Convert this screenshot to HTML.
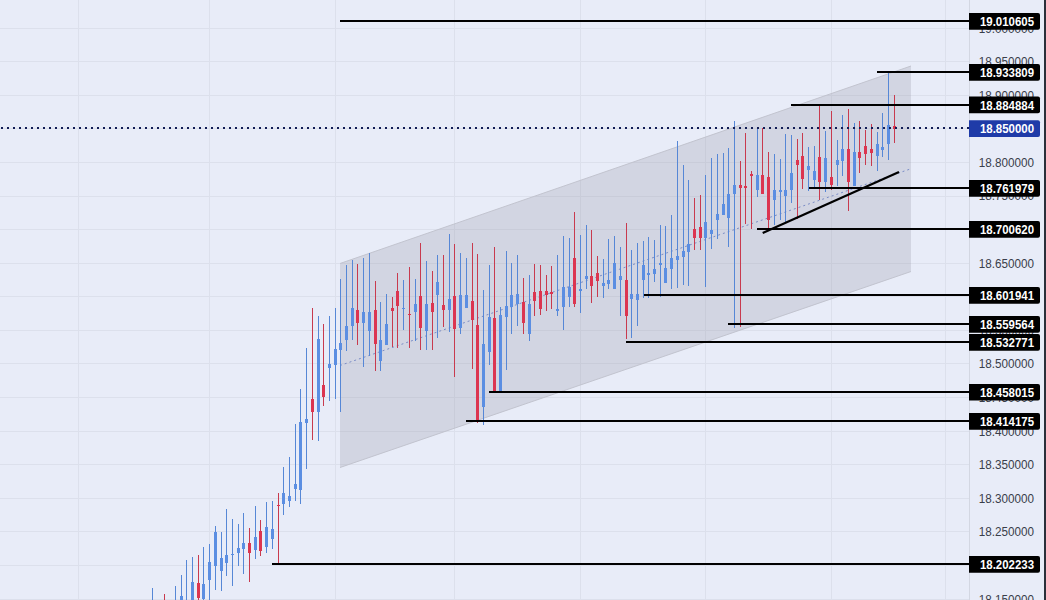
<!DOCTYPE html><html><head><meta charset="utf-8"><style>
html,body{margin:0;padding:0;width:1046px;height:600px;overflow:hidden;background:#e8ecf8;}
svg{display:block;}
text{font-family:"Liberation Sans",sans-serif;}
</style></head><body>
<svg width="1046" height="600" viewBox="0 0 1046 600" shape-rendering="crispEdges">
<rect x="0" y="0" width="1046" height="600" fill="#e8ecf8"/>
<rect x="78" y="0" width="1" height="600" fill="#dce0ec"/>
<rect x="209" y="0" width="1" height="600" fill="#dce0ec"/>
<rect x="335" y="0" width="1" height="600" fill="#dce0ec"/>
<rect x="454" y="0" width="1" height="600" fill="#dce0ec"/>
<rect x="580" y="0" width="1" height="600" fill="#dce0ec"/>
<rect x="705" y="0" width="1" height="600" fill="#dce0ec"/>
<rect x="831" y="0" width="1" height="600" fill="#dce0ec"/>
<rect x="945" y="0" width="1" height="600" fill="#dce0ec"/>
<rect x="0" y="599" width="969" height="1" fill="#dce0ec"/>
<rect x="0" y="565" width="969" height="1" fill="#dce0ec"/>
<rect x="0" y="531" width="969" height="1" fill="#dce0ec"/>
<rect x="0" y="498" width="969" height="1" fill="#dce0ec"/>
<rect x="0" y="464" width="969" height="1" fill="#dce0ec"/>
<rect x="0" y="431" width="969" height="1" fill="#dce0ec"/>
<rect x="0" y="397" width="969" height="1" fill="#dce0ec"/>
<rect x="0" y="363" width="969" height="1" fill="#dce0ec"/>
<rect x="0" y="330" width="969" height="1" fill="#dce0ec"/>
<rect x="0" y="296" width="969" height="1" fill="#dce0ec"/>
<rect x="0" y="263" width="969" height="1" fill="#dce0ec"/>
<rect x="0" y="229" width="969" height="1" fill="#dce0ec"/>
<rect x="0" y="196" width="969" height="1" fill="#dce0ec"/>
<rect x="0" y="162" width="969" height="1" fill="#dce0ec"/>
<rect x="0" y="128" width="969" height="1" fill="#dce0ec"/>
<rect x="0" y="95" width="969" height="1" fill="#dce0ec"/>
<rect x="0" y="61" width="969" height="1" fill="#dce0ec"/>
<rect x="0" y="28" width="969" height="1" fill="#dce0ec"/>
<rect x="969" y="0" width="1" height="600" fill="#d3d7e2"/>
<text transform="translate(1034.00,603.5) scale(0.900,1)" text-anchor="end" font-size="13.0" fill="#3a3e4a">18.150000</text>
<text transform="translate(1034.00,569.9) scale(0.900,1)" text-anchor="end" font-size="13.0" fill="#3a3e4a">18.200000</text>
<text transform="translate(1034.00,536.3) scale(0.900,1)" text-anchor="end" font-size="13.0" fill="#3a3e4a">18.250000</text>
<text transform="translate(1034.00,502.7) scale(0.900,1)" text-anchor="end" font-size="13.0" fill="#3a3e4a">18.300000</text>
<text transform="translate(1034.00,469.1) scale(0.900,1)" text-anchor="end" font-size="13.0" fill="#3a3e4a">18.350000</text>
<text transform="translate(1034.00,435.5) scale(0.900,1)" text-anchor="end" font-size="13.0" fill="#3a3e4a">18.400000</text>
<text transform="translate(1034.00,402.0) scale(0.900,1)" text-anchor="end" font-size="13.0" fill="#3a3e4a">18.450000</text>
<text transform="translate(1034.00,368.4) scale(0.900,1)" text-anchor="end" font-size="13.0" fill="#3a3e4a">18.500000</text>
<text transform="translate(1034.00,334.8) scale(0.900,1)" text-anchor="end" font-size="13.0" fill="#3a3e4a">18.550000</text>
<text transform="translate(1034.00,301.2) scale(0.900,1)" text-anchor="end" font-size="13.0" fill="#3a3e4a">18.600000</text>
<text transform="translate(1034.00,267.6) scale(0.900,1)" text-anchor="end" font-size="13.0" fill="#3a3e4a">18.650000</text>
<text transform="translate(1034.00,234.0) scale(0.900,1)" text-anchor="end" font-size="13.0" fill="#3a3e4a">18.700000</text>
<text transform="translate(1034.00,200.4) scale(0.900,1)" text-anchor="end" font-size="13.0" fill="#3a3e4a">18.750000</text>
<text transform="translate(1034.00,166.9) scale(0.900,1)" text-anchor="end" font-size="13.0" fill="#3a3e4a">18.800000</text>
<text transform="translate(1034.00,133.3) scale(0.900,1)" text-anchor="end" font-size="13.0" fill="#3a3e4a">18.850000</text>
<text transform="translate(1034.00,99.7) scale(0.900,1)" text-anchor="end" font-size="13.0" fill="#3a3e4a">18.900000</text>
<text transform="translate(1034.00,66.1) scale(0.900,1)" text-anchor="end" font-size="13.0" fill="#3a3e4a">18.950000</text>
<text transform="translate(1034.00,32.5) scale(0.900,1)" text-anchor="end" font-size="13.0" fill="#3a3e4a">19.000000</text>
<polygon points="340,263.5 911,66 911,271.5 340,467.5" fill="#8e90a0" fill-opacity="0.25" shape-rendering="geometricPrecision"/>
<line x1="340" y1="263.5" x2="911" y2="66" stroke="#c2c4cf" stroke-width="1" shape-rendering="geometricPrecision"/>
<line x1="340" y1="467.5" x2="911" y2="271.5" stroke="#c2c4cf" stroke-width="1" shape-rendering="geometricPrecision"/>
<line x1="340" y1="365.5" x2="911" y2="168.75" stroke="#7a8cc6" stroke-width="1" stroke-dasharray="2 3" shape-rendering="geometricPrecision"/>
<rect x="152" y="588.0" width="1" height="32.0" fill="#5687d6"/>
<rect x="151" y="605.0" width="3" height="10.0" fill="#5b8ee2"/>
<rect x="164" y="594.0" width="1" height="26.0" fill="#c83a4e"/>
<rect x="163" y="605.0" width="3" height="10.0" fill="#dc3550"/>
<rect x="175" y="586.0" width="1" height="34.0" fill="#5687d6"/>
<rect x="174" y="605.0" width="3" height="10.0" fill="#5b8ee2"/>
<rect x="181" y="575.0" width="1" height="40.0" fill="#5687d6"/>
<rect x="180" y="596.0" width="3" height="14.0" fill="#5b8ee2"/>
<rect x="186" y="560.0" width="1" height="55.0" fill="#5687d6"/>
<rect x="185" y="603.0" width="3" height="9.0" fill="#5b8ee2"/>
<rect x="192" y="557.0" width="1" height="58.0" fill="#5687d6"/>
<rect x="191" y="582.0" width="3" height="28.0" fill="#5b8ee2"/>
<rect x="198" y="555.0" width="1" height="55.0" fill="#c83a4e"/>
<rect x="197" y="583.0" width="3" height="14.5" fill="#dc3550"/>
<rect x="203" y="547.0" width="1" height="55.0" fill="#5687d6"/>
<rect x="202" y="584.0" width="3" height="15.0" fill="#5b8ee2"/>
<rect x="209" y="544.0" width="1" height="61.0" fill="#5687d6"/>
<rect x="208" y="562.0" width="3" height="18.0" fill="#5b8ee2"/>
<rect x="215" y="526.0" width="1" height="63.5" fill="#5687d6"/>
<rect x="214" y="532.0" width="3" height="34.0" fill="#5b8ee2"/>
<rect x="221" y="532.0" width="1" height="59.0" fill="#5687d6"/>
<rect x="220" y="558.0" width="3" height="13.0" fill="#5b8ee2"/>
<rect x="226" y="509.0" width="1" height="66.5" fill="#5687d6"/>
<rect x="225" y="555.0" width="3" height="8.0" fill="#5b8ee2"/>
<rect x="232" y="519.0" width="1" height="67.0" fill="#5687d6"/>
<rect x="231" y="554.0" width="3" height="1.0" fill="#5b8ee2"/>
<rect x="238" y="524.0" width="1" height="42.0" fill="#5687d6"/>
<rect x="237" y="548.0" width="3" height="4.6" fill="#5b8ee2"/>
<rect x="243" y="513.0" width="1" height="61.0" fill="#5687d6"/>
<rect x="242" y="543.0" width="3" height="6.0" fill="#5b8ee2"/>
<rect x="249" y="528.0" width="1" height="54.0" fill="#c83a4e"/>
<rect x="248" y="543.0" width="3" height="9.6" fill="#dc3550"/>
<rect x="255" y="506.0" width="1" height="53.0" fill="#5687d6"/>
<rect x="254" y="537.0" width="3" height="13.0" fill="#5b8ee2"/>
<rect x="260" y="520.0" width="1" height="36.0" fill="#c83a4e"/>
<rect x="259" y="531.0" width="3" height="20.0" fill="#dc3550"/>
<rect x="266" y="502.0" width="1" height="51.0" fill="#5687d6"/>
<rect x="265" y="527.0" width="3" height="20.0" fill="#5b8ee2"/>
<rect x="272" y="501.0" width="1" height="48.0" fill="#5687d6"/>
<rect x="271" y="529.0" width="3" height="10.0" fill="#5b8ee2"/>
<rect x="278" y="493.0" width="1" height="71.0" fill="#c83a4e"/>
<rect x="277" y="504.5" width="3" height="1.0" fill="#dc3550"/>
<rect x="283" y="467.0" width="1" height="48.0" fill="#5687d6"/>
<rect x="282" y="492.6" width="3" height="11.4" fill="#5b8ee2"/>
<rect x="289" y="457.0" width="1" height="50.0" fill="#5687d6"/>
<rect x="288" y="496.0" width="3" height="5.0" fill="#5b8ee2"/>
<rect x="295" y="424.0" width="1" height="77.0" fill="#5687d6"/>
<rect x="294" y="484.0" width="3" height="5.0" fill="#5b8ee2"/>
<rect x="300" y="389.0" width="1" height="115.0" fill="#5687d6"/>
<rect x="299" y="422.0" width="3" height="68.0" fill="#5b8ee2"/>
<rect x="306" y="348.0" width="1" height="121.0" fill="#5687d6"/>
<rect x="305" y="419.0" width="3" height="4.0" fill="#5b8ee2"/>
<rect x="312" y="308.0" width="1" height="132.0" fill="#c83a4e"/>
<rect x="311" y="399.0" width="3" height="12.6" fill="#dc3550"/>
<rect x="318" y="316.0" width="1" height="125.0" fill="#5687d6"/>
<rect x="317" y="339.0" width="3" height="72.6" fill="#5b8ee2"/>
<rect x="323" y="324.0" width="1" height="82.0" fill="#c83a4e"/>
<rect x="322" y="385.0" width="3" height="12.0" fill="#dc3550"/>
<rect x="329" y="316.0" width="1" height="85.0" fill="#5687d6"/>
<rect x="328" y="364.0" width="3" height="4.0" fill="#5b8ee2"/>
<rect x="335" y="308.0" width="1" height="91.0" fill="#5687d6"/>
<rect x="334" y="349.0" width="3" height="16.0" fill="#5b8ee2"/>
<rect x="340" y="279.0" width="1" height="133.0" fill="#5687d6"/>
<rect x="339" y="343.0" width="3" height="7.0" fill="#5b8ee2"/>
<rect x="346" y="265.0" width="1" height="86.0" fill="#5687d6"/>
<rect x="345" y="326.0" width="3" height="14.0" fill="#5b8ee2"/>
<rect x="352" y="260.0" width="1" height="80.0" fill="#5687d6"/>
<rect x="351" y="308.0" width="3" height="18.0" fill="#5b8ee2"/>
<rect x="357" y="264.0" width="1" height="81.0" fill="#c83a4e"/>
<rect x="356" y="310.0" width="3" height="13.0" fill="#dc3550"/>
<rect x="363" y="258.0" width="1" height="109.0" fill="#5687d6"/>
<rect x="362" y="312.0" width="3" height="11.0" fill="#5b8ee2"/>
<rect x="369" y="253.0" width="1" height="103.0" fill="#5687d6"/>
<rect x="368" y="312.0" width="3" height="19.0" fill="#5b8ee2"/>
<rect x="375" y="281.0" width="1" height="89.5" fill="#c83a4e"/>
<rect x="374" y="310.0" width="3" height="34.0" fill="#dc3550"/>
<rect x="380" y="302.0" width="1" height="68.5" fill="#5687d6"/>
<rect x="379" y="340.0" width="3" height="21.0" fill="#5b8ee2"/>
<rect x="386" y="294.0" width="1" height="51.0" fill="#5687d6"/>
<rect x="385" y="324.0" width="3" height="21.0" fill="#5b8ee2"/>
<rect x="392" y="297.0" width="1" height="50.0" fill="#c83a4e"/>
<rect x="391" y="308.0" width="3" height="3.0" fill="#dc3550"/>
<rect x="397" y="273.0" width="1" height="74.5" fill="#c83a4e"/>
<rect x="396" y="291.0" width="3" height="15.0" fill="#dc3550"/>
<rect x="403" y="280.0" width="1" height="50.0" fill="#5687d6"/>
<rect x="402" y="308.0" width="3" height="1.0" fill="#5b8ee2"/>
<rect x="409" y="267.0" width="1" height="80.5" fill="#c83a4e"/>
<rect x="408" y="314.0" width="3" height="1.0" fill="#dc3550"/>
<rect x="415" y="279.0" width="1" height="61.5" fill="#5687d6"/>
<rect x="414" y="304.0" width="3" height="8.0" fill="#5b8ee2"/>
<rect x="420" y="243.0" width="1" height="106.5" fill="#c83a4e"/>
<rect x="419" y="296.0" width="3" height="32.0" fill="#dc3550"/>
<rect x="426" y="261.0" width="1" height="88.5" fill="#5687d6"/>
<rect x="425" y="304.0" width="3" height="27.0" fill="#5b8ee2"/>
<rect x="432" y="271.0" width="1" height="78.5" fill="#c83a4e"/>
<rect x="431" y="303.0" width="3" height="9.0" fill="#dc3550"/>
<rect x="437" y="255.0" width="1" height="83.0" fill="#5687d6"/>
<rect x="436" y="282.0" width="3" height="13.0" fill="#5b8ee2"/>
<rect x="443" y="255.0" width="1" height="71.5" fill="#c83a4e"/>
<rect x="442" y="305.0" width="3" height="5.0" fill="#dc3550"/>
<rect x="449" y="234.0" width="1" height="97.5" fill="#5687d6"/>
<rect x="448" y="298.5" width="3" height="11.5" fill="#5b8ee2"/>
<rect x="454" y="244.0" width="1" height="133.0" fill="#c83a4e"/>
<rect x="453" y="296.0" width="3" height="33.0" fill="#dc3550"/>
<rect x="460" y="253.0" width="1" height="80.5" fill="#5687d6"/>
<rect x="459" y="295.0" width="3" height="33.0" fill="#5b8ee2"/>
<rect x="466" y="258.0" width="1" height="49.5" fill="#5687d6"/>
<rect x="465" y="295.0" width="3" height="12.5" fill="#5b8ee2"/>
<rect x="472" y="243.0" width="1" height="126.0" fill="#c83a4e"/>
<rect x="471" y="301.0" width="3" height="18.5" fill="#dc3550"/>
<rect x="477" y="254.0" width="1" height="169.3" fill="#c83a4e"/>
<rect x="476" y="325.0" width="3" height="96.0" fill="#dc3550"/>
<rect x="483" y="290.0" width="1" height="135.4" fill="#5687d6"/>
<rect x="482" y="344.0" width="3" height="62.7" fill="#5b8ee2"/>
<rect x="489" y="265.0" width="1" height="100.0" fill="#5687d6"/>
<rect x="488" y="317.0" width="3" height="35.0" fill="#5b8ee2"/>
<rect x="494" y="247.0" width="1" height="145.0" fill="#c83a4e"/>
<rect x="493" y="318.0" width="3" height="74.0" fill="#dc3550"/>
<rect x="500" y="307.0" width="1" height="84.0" fill="#5687d6"/>
<rect x="499" y="315.0" width="3" height="76.0" fill="#5b8ee2"/>
<rect x="506" y="251.0" width="1" height="119.0" fill="#5687d6"/>
<rect x="505" y="306.0" width="3" height="10.5" fill="#5b8ee2"/>
<rect x="511" y="263.0" width="1" height="71.0" fill="#5687d6"/>
<rect x="510" y="295.0" width="3" height="12.0" fill="#5b8ee2"/>
<rect x="517" y="255.0" width="1" height="71.0" fill="#5687d6"/>
<rect x="516" y="294.0" width="3" height="10.0" fill="#5b8ee2"/>
<rect x="523" y="278.0" width="1" height="56.0" fill="#c83a4e"/>
<rect x="522" y="302.0" width="3" height="21.0" fill="#dc3550"/>
<rect x="529" y="275.0" width="1" height="66.0" fill="#5687d6"/>
<rect x="528" y="304.0" width="3" height="30.0" fill="#5b8ee2"/>
<rect x="534" y="264.0" width="1" height="52.0" fill="#c83a4e"/>
<rect x="533" y="292.0" width="3" height="9.0" fill="#dc3550"/>
<rect x="540" y="265.0" width="1" height="50.0" fill="#c83a4e"/>
<rect x="539" y="291.0" width="3" height="18.0" fill="#dc3550"/>
<rect x="546" y="275.0" width="1" height="35.5" fill="#c83a4e"/>
<rect x="545" y="291.0" width="3" height="4.0" fill="#dc3550"/>
<rect x="551" y="266.0" width="1" height="42.5" fill="#c83a4e"/>
<rect x="550" y="292.0" width="3" height="2.0" fill="#dc3550"/>
<rect x="557" y="255.0" width="1" height="60.5" fill="#5687d6"/>
<rect x="556" y="309.0" width="3" height="2.0" fill="#5b8ee2"/>
<rect x="563" y="236.0" width="1" height="94.0" fill="#5687d6"/>
<rect x="562" y="287.0" width="3" height="19.5" fill="#5b8ee2"/>
<rect x="569" y="238.0" width="1" height="68.5" fill="#5687d6"/>
<rect x="568" y="287.0" width="3" height="10.0" fill="#5b8ee2"/>
<rect x="574" y="212.0" width="1" height="94.5" fill="#c83a4e"/>
<rect x="573" y="258.0" width="3" height="46.0" fill="#dc3550"/>
<rect x="580" y="235.0" width="1" height="78.0" fill="#5687d6"/>
<rect x="579" y="289.0" width="3" height="2.0" fill="#5b8ee2"/>
<rect x="586" y="225.0" width="1" height="64.0" fill="#5687d6"/>
<rect x="585" y="276.0" width="3" height="2.5" fill="#5b8ee2"/>
<rect x="591" y="230.0" width="1" height="73.0" fill="#c83a4e"/>
<rect x="590" y="276.0" width="3" height="10.0" fill="#dc3550"/>
<rect x="597" y="256.0" width="1" height="41.0" fill="#c83a4e"/>
<rect x="596" y="273.0" width="3" height="8.0" fill="#dc3550"/>
<rect x="603" y="259.0" width="1" height="39.0" fill="#5687d6"/>
<rect x="602" y="283.0" width="3" height="2.6" fill="#5b8ee2"/>
<rect x="608" y="239.0" width="1" height="50.0" fill="#5687d6"/>
<rect x="607" y="280.0" width="3" height="4.0" fill="#5b8ee2"/>
<rect x="614" y="236.0" width="1" height="53.0" fill="#5687d6"/>
<rect x="613" y="262.5" width="3" height="26.5" fill="#5b8ee2"/>
<rect x="620" y="247.0" width="1" height="69.0" fill="#5687d6"/>
<rect x="619" y="276.0" width="3" height="3.5" fill="#5b8ee2"/>
<rect x="626" y="223.0" width="1" height="116.0" fill="#c83a4e"/>
<rect x="625" y="280.0" width="3" height="35.5" fill="#dc3550"/>
<rect x="631" y="250.0" width="1" height="87.5" fill="#5687d6"/>
<rect x="630" y="294.0" width="3" height="5.0" fill="#5b8ee2"/>
<rect x="637" y="243.0" width="1" height="83.0" fill="#5687d6"/>
<rect x="636" y="294.0" width="3" height="5.5" fill="#5b8ee2"/>
<rect x="643" y="241.0" width="1" height="57.0" fill="#5687d6"/>
<rect x="642" y="265.0" width="3" height="14.6" fill="#5b8ee2"/>
<rect x="648" y="237.0" width="1" height="60.7" fill="#5687d6"/>
<rect x="647" y="272.5" width="3" height="2.0" fill="#5b8ee2"/>
<rect x="654" y="240.0" width="1" height="42.0" fill="#5687d6"/>
<rect x="653" y="269.0" width="3" height="5.0" fill="#5b8ee2"/>
<rect x="660" y="224.5" width="1" height="72.5" fill="#5687d6"/>
<rect x="659" y="263.0" width="3" height="2.0" fill="#5b8ee2"/>
<rect x="665" y="225.8" width="1" height="56.8" fill="#5687d6"/>
<rect x="664" y="268.0" width="3" height="14.5" fill="#5b8ee2"/>
<rect x="671" y="215.0" width="1" height="74.0" fill="#5687d6"/>
<rect x="670" y="258.0" width="3" height="10.5" fill="#5b8ee2"/>
<rect x="677" y="141.0" width="1" height="147.0" fill="#5687d6"/>
<rect x="676" y="256.0" width="3" height="4.0" fill="#5b8ee2"/>
<rect x="683" y="165.0" width="1" height="120.0" fill="#5687d6"/>
<rect x="682" y="251.0" width="3" height="5.6" fill="#5b8ee2"/>
<rect x="688" y="180.0" width="1" height="106.0" fill="#5687d6"/>
<rect x="687" y="244.0" width="3" height="7.6" fill="#5b8ee2"/>
<rect x="694" y="197.5" width="1" height="52.3" fill="#c83a4e"/>
<rect x="693" y="228.8" width="3" height="9.1" fill="#dc3550"/>
<rect x="700" y="195.0" width="1" height="54.5" fill="#c83a4e"/>
<rect x="699" y="227.0" width="3" height="10.5" fill="#dc3550"/>
<rect x="705" y="175.0" width="1" height="111.5" fill="#5687d6"/>
<rect x="704" y="222.0" width="3" height="15.5" fill="#5b8ee2"/>
<rect x="711" y="158.0" width="1" height="91.0" fill="#5687d6"/>
<rect x="710" y="230.3" width="3" height="3.5" fill="#5b8ee2"/>
<rect x="717" y="154.0" width="1" height="84.5" fill="#5687d6"/>
<rect x="716" y="214.0" width="3" height="6.0" fill="#5b8ee2"/>
<rect x="723" y="153.0" width="1" height="61.5" fill="#5687d6"/>
<rect x="722" y="203.5" width="3" height="11.0" fill="#5b8ee2"/>
<rect x="728" y="148.0" width="1" height="98.7" fill="#5687d6"/>
<rect x="727" y="194.0" width="3" height="24.0" fill="#5b8ee2"/>
<rect x="734" y="121.0" width="1" height="207.3" fill="#5687d6"/>
<rect x="733" y="185.0" width="3" height="9.0" fill="#5b8ee2"/>
<rect x="740" y="161.0" width="1" height="166.2" fill="#c83a4e"/>
<rect x="739" y="185.0" width="3" height="3.0" fill="#dc3550"/>
<rect x="745" y="133.0" width="1" height="91.0" fill="#c83a4e"/>
<rect x="744" y="185.6" width="3" height="2.0" fill="#dc3550"/>
<rect x="751" y="171.0" width="1" height="57.7" fill="#c83a4e"/>
<rect x="750" y="174.0" width="3" height="2.4" fill="#dc3550"/>
<rect x="757" y="127.5" width="1" height="69.5" fill="#5687d6"/>
<rect x="756" y="174.5" width="3" height="15.5" fill="#5b8ee2"/>
<rect x="762" y="127.5" width="1" height="66.2" fill="#c83a4e"/>
<rect x="761" y="175.0" width="3" height="18.8" fill="#dc3550"/>
<rect x="768" y="152.0" width="1" height="78.5" fill="#c83a4e"/>
<rect x="767" y="177.0" width="3" height="42.5" fill="#dc3550"/>
<rect x="774" y="153.8" width="1" height="71.6" fill="#5687d6"/>
<rect x="773" y="190.0" width="3" height="9.5" fill="#5b8ee2"/>
<rect x="780" y="158.8" width="1" height="60.9" fill="#5687d6"/>
<rect x="779" y="190.2" width="3" height="2.0" fill="#5b8ee2"/>
<rect x="785" y="133.8" width="1" height="89.6" fill="#5687d6"/>
<rect x="784" y="190.0" width="3" height="6.2" fill="#5b8ee2"/>
<rect x="791" y="135.0" width="1" height="67.5" fill="#5687d6"/>
<rect x="790" y="173.2" width="3" height="16.8" fill="#5b8ee2"/>
<rect x="797" y="138.8" width="1" height="80.0" fill="#c83a4e"/>
<rect x="796" y="160.0" width="3" height="4.5" fill="#dc3550"/>
<rect x="802" y="133.0" width="1" height="55.8" fill="#c83a4e"/>
<rect x="801" y="156.2" width="3" height="23.2" fill="#dc3550"/>
<rect x="808" y="147.2" width="1" height="44.0" fill="#5687d6"/>
<rect x="807" y="165.6" width="3" height="4.4" fill="#5b8ee2"/>
<rect x="814" y="146.2" width="1" height="41.2" fill="#5687d6"/>
<rect x="813" y="170.8" width="3" height="9.2" fill="#5b8ee2"/>
<rect x="819" y="105.0" width="1" height="95.0" fill="#c83a4e"/>
<rect x="818" y="157.0" width="3" height="25.0" fill="#dc3550"/>
<rect x="825" y="131.2" width="1" height="61.2" fill="#5687d6"/>
<rect x="824" y="158.2" width="3" height="24.2" fill="#5b8ee2"/>
<rect x="831" y="111.2" width="1" height="79.2" fill="#c83a4e"/>
<rect x="830" y="177.0" width="3" height="8.0" fill="#dc3550"/>
<rect x="837" y="140.0" width="1" height="45.5" fill="#5687d6"/>
<rect x="836" y="160.0" width="3" height="5.0" fill="#5b8ee2"/>
<rect x="842" y="115.0" width="1" height="61.2" fill="#5687d6"/>
<rect x="841" y="148.8" width="3" height="12.5" fill="#5b8ee2"/>
<rect x="848" y="108.8" width="1" height="102.5" fill="#c83a4e"/>
<rect x="847" y="148.8" width="3" height="33.2" fill="#dc3550"/>
<rect x="854" y="122.5" width="1" height="63.0" fill="#5687d6"/>
<rect x="853" y="152.0" width="3" height="33.5" fill="#5b8ee2"/>
<rect x="859" y="121.0" width="1" height="51.5" fill="#c83a4e"/>
<rect x="858" y="152.2" width="3" height="6.2" fill="#dc3550"/>
<rect x="865" y="130.0" width="1" height="35.0" fill="#c83a4e"/>
<rect x="864" y="146.2" width="3" height="7.5" fill="#dc3550"/>
<rect x="871" y="123.8" width="1" height="42.5" fill="#c83a4e"/>
<rect x="870" y="148.8" width="3" height="4.5" fill="#dc3550"/>
<rect x="877" y="132.0" width="1" height="38.5" fill="#5687d6"/>
<rect x="876" y="143.8" width="3" height="12.0" fill="#5b8ee2"/>
<rect x="882" y="113.2" width="1" height="44.2" fill="#5687d6"/>
<rect x="881" y="147.0" width="3" height="3.0" fill="#5b8ee2"/>
<rect x="888" y="71.2" width="1" height="88.8" fill="#5687d6"/>
<rect x="887" y="125.0" width="3" height="18.8" fill="#5b8ee2"/>
<rect x="894" y="95.0" width="1" height="47.5" fill="#c83a4e"/>
<rect x="893" y="125.8" width="3" height="3.0" fill="#dc3550"/>
<rect x="339.5" y="20" width="629.5" height="2" fill="#000"/>
<rect x="877.0" y="71" width="92.0" height="2" fill="#000"/>
<rect x="791.0" y="104" width="178.0" height="2" fill="#000"/>
<rect x="809.0" y="187" width="160.0" height="2" fill="#000"/>
<rect x="757.0" y="228" width="212.0" height="2" fill="#000"/>
<rect x="644.0" y="294" width="325.0" height="2" fill="#000"/>
<rect x="728.0" y="323" width="241.0" height="2" fill="#000"/>
<rect x="626.0" y="341" width="343.0" height="2" fill="#000"/>
<rect x="489.0" y="391" width="480.0" height="2" fill="#000"/>
<rect x="466.0" y="420" width="503.0" height="2" fill="#000"/>
<rect x="272.0" y="563" width="697.0" height="2" fill="#000"/>
<line x1="762.7" y1="233" x2="899" y2="172" stroke="#000" stroke-width="2.2" shape-rendering="geometricPrecision"/>
<line x1="0" y1="128" x2="969" y2="128" stroke="#111c55" stroke-width="2" stroke-dasharray="2 4" stroke-dashoffset="-1"/>
<path d="M969 13.10 H1038 Q1040 13.10 1040 15.10 V27.70 Q1040 29.70 1038 29.70 H969 Z" fill="#000" shape-rendering="geometricPrecision"/>
<text transform="translate(1034.00,26.0) scale(0.880,1)" text-anchor="end" font-size="13.0" font-weight="bold" fill="#fff">19.010605</text>
<path d="M969 64.10 H1038 Q1040 64.10 1040 66.10 V78.70 Q1040 80.70 1038 80.70 H969 Z" fill="#000" shape-rendering="geometricPrecision"/>
<text transform="translate(1034.00,77.0) scale(0.880,1)" text-anchor="end" font-size="13.0" font-weight="bold" fill="#fff">18.933809</text>
<path d="M969 96.60 H1038 Q1040 96.60 1040 98.60 V111.20 Q1040 113.20 1038 113.20 H969 Z" fill="#000" shape-rendering="geometricPrecision"/>
<text transform="translate(1034.00,109.5) scale(0.880,1)" text-anchor="end" font-size="13.0" font-weight="bold" fill="#fff">18.884884</text>
<path d="M969 180.10 H1038 Q1040 180.10 1040 182.10 V194.70 Q1040 196.70 1038 196.70 H969 Z" fill="#000" shape-rendering="geometricPrecision"/>
<text transform="translate(1034.00,193.0) scale(0.880,1)" text-anchor="end" font-size="13.0" font-weight="bold" fill="#fff">18.761979</text>
<path d="M969 221.10 H1038 Q1040 221.10 1040 223.10 V235.70 Q1040 237.70 1038 237.70 H969 Z" fill="#000" shape-rendering="geometricPrecision"/>
<text transform="translate(1034.00,234.0) scale(0.880,1)" text-anchor="end" font-size="13.0" font-weight="bold" fill="#fff">18.700620</text>
<path d="M969 287.10 H1038 Q1040 287.10 1040 289.10 V301.70 Q1040 303.70 1038 303.70 H969 Z" fill="#000" shape-rendering="geometricPrecision"/>
<text transform="translate(1034.00,300.0) scale(0.880,1)" text-anchor="end" font-size="13.0" font-weight="bold" fill="#fff">18.601941</text>
<path d="M969 316.10 H1038 Q1040 316.10 1040 318.10 V330.70 Q1040 332.70 1038 332.70 H969 Z" fill="#000" shape-rendering="geometricPrecision"/>
<text transform="translate(1034.00,329.0) scale(0.880,1)" text-anchor="end" font-size="13.0" font-weight="bold" fill="#fff">18.559564</text>
<path d="M969 334.10 H1038 Q1040 334.10 1040 336.10 V348.70 Q1040 350.70 1038 350.70 H969 Z" fill="#000" shape-rendering="geometricPrecision"/>
<text transform="translate(1034.00,347.0) scale(0.880,1)" text-anchor="end" font-size="13.0" font-weight="bold" fill="#fff">18.532771</text>
<path d="M969 383.90 H1038 Q1040 383.90 1040 385.90 V398.50 Q1040 400.50 1038 400.50 H969 Z" fill="#000" shape-rendering="geometricPrecision"/>
<text transform="translate(1034.00,396.8) scale(0.880,1)" text-anchor="end" font-size="13.0" font-weight="bold" fill="#fff">18.458015</text>
<path d="M969 413.10 H1038 Q1040 413.10 1040 415.10 V427.70 Q1040 429.70 1038 429.70 H969 Z" fill="#000" shape-rendering="geometricPrecision"/>
<text transform="translate(1034.00,426.0) scale(0.880,1)" text-anchor="end" font-size="13.0" font-weight="bold" fill="#fff">18.414175</text>
<path d="M969 556.10 H1038 Q1040 556.10 1040 558.10 V570.70 Q1040 572.70 1038 572.70 H969 Z" fill="#000" shape-rendering="geometricPrecision"/>
<text transform="translate(1034.00,569.0) scale(0.880,1)" text-anchor="end" font-size="13.0" font-weight="bold" fill="#fff">18.202233</text>
<path d="M969 120.30 H1038 Q1040 120.30 1040 122.30 V134.90 Q1040 136.90 1038 136.90 H969 Z" fill="#1f3ba8" shape-rendering="geometricPrecision"/>
<text transform="translate(1034.00,133.2) scale(0.880,1)" text-anchor="end" font-size="13.0" font-weight="bold" fill="#fff">18.850000</text>
<rect x="1044" y="0" width="2" height="600" fill="#2b2f3a"/>
</svg></body></html>
